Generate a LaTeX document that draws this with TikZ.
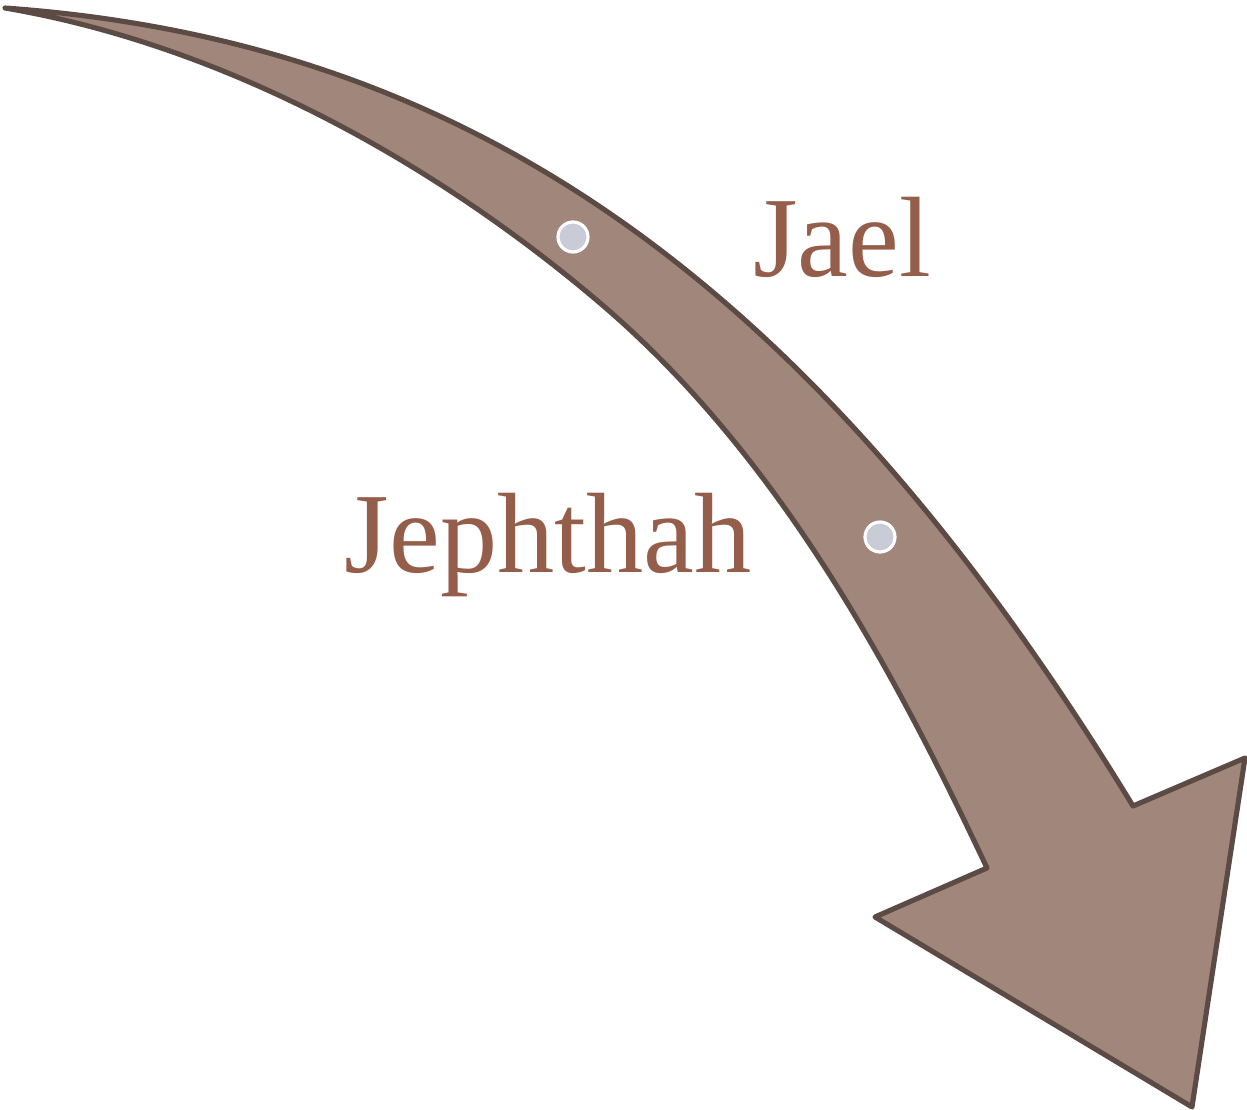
\documentclass[tikz,border=0pt]{standalone}
\usepackage{fontspec}
\setmainfont{Liberation Serif}
\definecolor{arrowfill}{HTML}{A0867B}
\definecolor{arrowline}{HTML}{5B4B44}
\definecolor{dotfill}{HTML}{C9CBD6}
\definecolor{labelcol}{HTML}{955E4B}
\begin{document}
\begin{tikzpicture}[x=0.01cm,y=-0.01cm,
  bigarrow/.style={fill=arrowfill,draw=arrowline,line width=1.45pt,line join=round},
  dot/.style={circle,fill=dotfill,draw=white,line width=0.9pt,minimum size=30*0.01cm,inner sep=0pt},
  lbl/.style={text=labelcol,font=\fontsize{32.5}{36}\selectfont,inner sep=0pt,anchor=base}]
\useasboundingbox (0,0) rectangle (1247,1110);
\draw[bigarrow] (5,8) .. controls (450,40) and (800,260) .. (1133,806)
  -- (1245,758) -- (1192,1107) -- (875,917) -- (987,868)
  .. controls (889,660) and (775,452) .. (600,303)
  .. controls (432,160) and (222,45) .. (5,8) -- cycle;
\node[dot] (d1) at (573,237) {};
\node[dot] (d2) at (880,537) {};
\node[lbl] (jael) at (842,277) {Jael};
\node[lbl] (jephthah) at (548,573) {Jephthah};
\end{tikzpicture}
\end{document}
